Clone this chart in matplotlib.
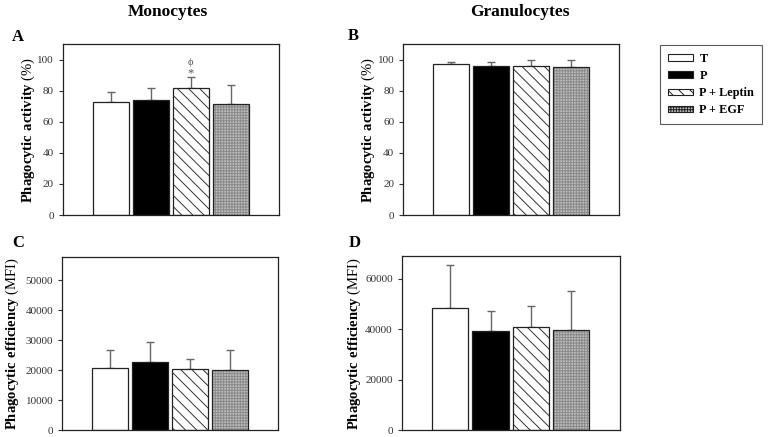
import matplotlib
matplotlib.use('Agg')
import matplotlib.pyplot as plt
from matplotlib.patches import Patch

# ---- data ----
groups = ['T', 'P', 'P + Leptin', 'P + EGF']

mono_activity = [72.5, 74.0, 82.0, 71.5]
mono_activity_err = [7.0, 7.5, 7.0, 12.0]
gran_activity = [97.0, 96.0, 96.0, 95.5]
gran_activity_err = [1.5, 2.5, 3.5, 4.0]

mono_eff = [20800, 22900, 20500, 20200]
mono_eff_err = [5800, 6500, 3100, 6500]
gran_eff = [48500, 39300, 40800, 39600]
gran_eff_err = [17100, 8000, 8400, 15500]

activity_ticks = [0, 20, 40, 60, 80, 100]
mono_eff_ticks = [0, 10000, 20000, 30000, 40000, 50000]
gran_eff_ticks = [0, 20000, 40000, 60000]

# ---- style ----
plt.rcParams['font.family'] = ['Liberation Serif', 'DejaVu Serif']
plt.rcParams['mathtext.fontset'] = 'custom'
plt.rcParams['mathtext.rm'] = 'Liberation Serif'
plt.rcParams['mathtext.bf'] = 'Liberation Serif:bold'
plt.rcParams['hatch.linewidth'] = 0.7

faces = ['white', 'black', 'white', '#bcbcbc']
hatches = [None, None, '\\\\\\', '++++++']
hatch_cols = ['white', 'black', '#333333', '#8a8a8a']
edge_col = '#222222'
err_col = '#666666'
tick_col = '#333333'


def draw_bars(ax, vals, errs, ylim, ticks, ylabel, labelpad):
    x = list(range(len(vals)))
    # fill + hatch layer
    for i in x:
        ax.bar(i, vals[i], width=0.9, color=faces[i], hatch=hatches[i],
               edgecolor=hatch_cols[i], linewidth=0, zorder=2)
    # outline layer
    ax.bar(x, vals, width=0.9, fill=False, edgecolor=edge_col, linewidth=0.9, zorder=3)
    ax.errorbar(x, vals, yerr=[[0] * len(errs), errs], fmt='none', ecolor=err_col,
                elinewidth=1.0, capsize=3, capthick=1.0, zorder=1)
    ax.set_xlim(-1.2, 4.2)
    ax.set_ylim(*ylim)
    ax.set_xticks([])
    ax.set_yticks(ticks)
    ax.tick_params(axis='y', labelsize=8, colors=tick_col, length=3, width=0.8,
                   labelcolor=tick_col)
    for s in ax.spines.values():
        s.set_color(edge_col)
        s.set_linewidth(0.9)
    ax.set_ylabel(ylabel, fontsize=10.5, labelpad=labelpad)


fig = plt.figure(figsize=(7.68, 4.37), dpi=100)

axA = fig.add_axes([0.082, 0.508, 0.281, 0.391])
axB = fig.add_axes([0.525, 0.508, 0.281, 0.391])
axC = fig.add_axes([0.081, 0.016, 0.281, 0.397])
axD = fig.add_axes([0.523, 0.016, 0.284, 0.398])

act_label = r'$\mathbf{Phagocytic\ activity}$ (%)'
eff_label = r'$\mathbf{Phagocytic\ efficiency}$ (MFI)'

draw_bars(axA, mono_activity, mono_activity_err, (0, 110), activity_ticks, act_label, 0.5)
draw_bars(axB, gran_activity, gran_activity_err, (0, 110), activity_ticks, act_label, 0.5)
draw_bars(axC, mono_eff, mono_eff_err, (0, 58000), mono_eff_ticks, eff_label, 3)
draw_bars(axD, gran_eff, gran_eff_err, (0, 69000), gran_eff_ticks, eff_label, 1.5)

# significance marks on P + Leptin (monocytes)
top = mono_activity[2] + mono_activity_err[2]
axA.text(2, top + 2.0, '*', ha='center', va='center', fontsize=9, color='#555555')
axA.text(2, top + 9.0, 'ϕ', ha='center', va='center', fontsize=7.5, color='#555555')

# column titles and panel letters
fig.text(0.219, 0.972, 'Monocytes', ha='center', va='center', fontsize=12.5, fontweight='bold')
fig.text(0.677, 0.972, 'Granulocytes', ha='center', va='center', fontsize=12.5, fontweight='bold')
for letter, (px, py) in zip('ABCD', [(0.016, 0.915), (0.453, 0.918), (0.016, 0.443), (0.454, 0.443)]):
    fig.text(px, py, letter, ha='left', va='center', fontsize=12, fontweight='bold')

# legend
handles = []
for i, g in enumerate(groups):
    handles.append(Patch(facecolor=faces[i], edgecolor=edge_col, hatch=hatches[i],
                         linewidth=0.8, label=g))
leg = fig.legend(handles=handles, loc='upper left', bbox_to_anchor=(0.859, 0.897),
                 frameon=True, fancybox=False, edgecolor='#333333',
                 prop={'family': 'Liberation Serif', 'weight': 'bold', 'size': 8.8},
                 handlelength=2.1, handleheight=0.45, handletextpad=0.5,
                 labelspacing=0.42, borderpad=0.65, borderaxespad=0)
leg.get_frame().set_linewidth(0.8)

fig.savefig('out.png', dpi=100)
